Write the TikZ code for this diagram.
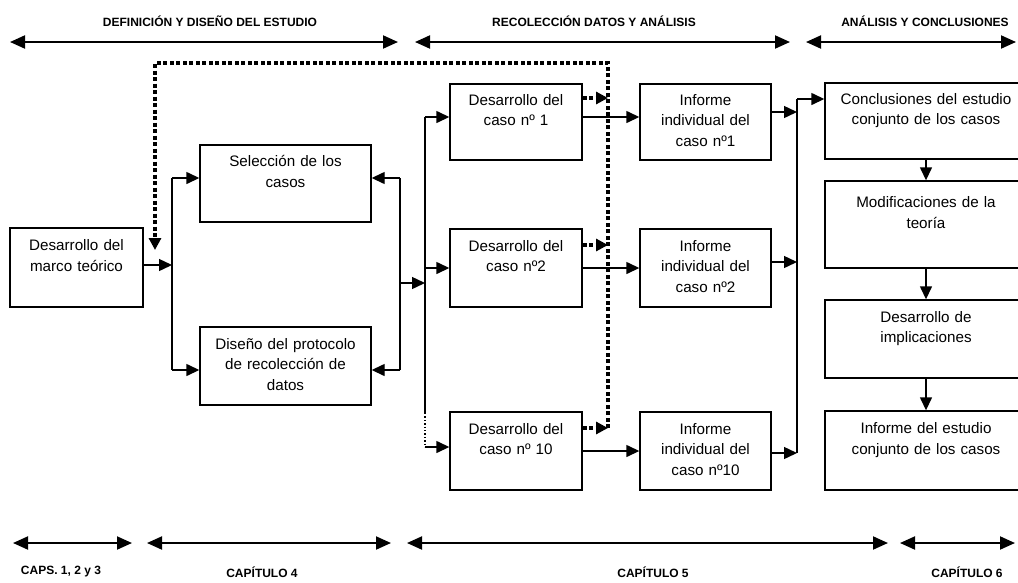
\documentclass[tikz,border=0pt]{standalone}
\usepackage{fontspec}
\setmainfont{Liberation Sans}
\usetikzlibrary{arrows.meta}
\newcommand{\cajatxt}[1]{\parbox[c][56pt][t]{\linewidth}{\centering #1}}
\tikzset{
  caja/.style={draw, line width=1.4pt, inner sep=0pt, minimum height=78pt,
    text width=#1, font=\fontsize{15.2}{20.5}\selectfont},
  linea/.style={line width=1.4pt},
  flecha/.style={line width=1.4pt, -{Triangle[length=13pt,width=12pt]}},
  punteada/.style={line width=3.5pt, dash pattern=on 4pt off 2.5pt},
  pflecha/.style={punteada, -{Triangle[length=12pt,width=12pt]}},
  doble/.style={line width=2pt,
    {Triangle[length=15pt,width=13pt]}-{Triangle[length=15pt,width=13pt]}},
  rotulo/.style={font=\fontsize{12}{14}\selectfont\bfseries, inner sep=0pt},
}

\begin{document}
\begin{tikzpicture}[x=1pt, y=-1pt]
  \useasboundingbox (0,0) rectangle (1018,582);
  \clip (0,0) rectangle (1018,582);

  \node[caja=133pt, minimum height=79pt] (marco) at (76.5,267.5) {\cajatxt{Desarrollo del\\marco teórico}};
  \node[caja=171pt, minimum height=77pt] (seleccion) at (285.5,183.5) {\cajatxt{Selección de los\\casos}};
  \node[caja=171pt] (diseno) at (285.5,366) {\cajatxt{Diseño del protocolo\\de recolección de\\datos}};
  \node[caja=132pt, minimum height=76pt] (caso1) at (516,122) {\cajatxt{Desarrollo del\\caso nº 1}};
  \node[caja=132pt] (caso2) at (516,268) {\cajatxt{Desarrollo del\\caso nº2}};
  \node[caja=132pt] (caso10) at (516,451) {\cajatxt{Desarrollo del\\caso nº 10}};
  \node[caja=131pt, minimum height=76pt] (inf1) at (705.5,122) {\cajatxt{Informe\\individual del\\caso nº1}};
  \node[caja=131pt] (inf2) at (705.5,268) {\cajatxt{Informe\\individual del\\caso nº2}};
  \node[caja=131pt] (inf10) at (705.5,451) {\cajatxt{Informe\\individual del\\caso nº10}};
  \node[caja=202pt, minimum height=76pt] (concl) at (926,121) {\cajatxt{Conclusiones del estudio\\conjunto de los casos}};
  \node[caja=202pt, minimum height=87pt] (modif) at (926,224.5) {\cajatxt{Modificaciones de la\\teoría}};
  \node[caja=202pt] (implic) at (926,339) {\cajatxt{Desarrollo de\\implicaciones}};
  \node[caja=202pt, minimum height=79pt] (infest) at (926,450.5) {\cajatxt{Informe del estudio\\conjunto de los casos}};

  \coordinate (a0) at (172,265);
  \coordinate (a1) at (172,178);
  \coordinate (a2) at (172,370);
  \draw[flecha] (marco.east |- a0) -- (a0);
  \draw[linea] (a1) -- (a2);
  \draw[flecha] (a1) -- (seleccion.west |- a1);
  \draw[flecha] (a2) -- (diseno.west |- a2);

  \coordinate (b0) at (400,283);
  \coordinate (b1) at (400,178);
  \coordinate (b2) at (400,370);
  \coordinate (c0) at (425,283);
  \draw[linea] (b1) -- (b2);
  \draw[flecha] (b1) -- (seleccion.east |- b1);
  \draw[flecha] (b2) -- (diseno.east |- b2);
  \draw[flecha] (b0) -- (c0);

  \coordinate (c1) at (425,117);
  \coordinate (c2) at (425,268);
  \coordinate (c4) at (425,413);
  \coordinate (c3) at (425,447);
  \draw[linea] (c1) -- (c4);
  \draw[line width=1.4pt, dotted] (c4) -- (c3);
  \draw[flecha] (c1) -- (caso1.west |- c1);
  \draw[flecha] (c2) -- (caso2.west |- c2);
  \draw[flecha] (c3) -- (caso10.west |- c3);

  \draw[flecha] (caso1.east |- c1) -- (inf1.west |- c1);
  \draw[flecha] (caso2) -- (inf2);
  \draw[flecha] (caso10) -- (inf10);

  \coordinate (e1) at (608,98);
  \coordinate (e2) at (608,245);
  \coordinate (e3) at (608,428);
  \coordinate (p1) at (608,63);
  \coordinate (p2) at (155,63);
  \coordinate (p3) at (155,250);
  \draw[pflecha] (caso1.east |- e1) -- (e1);
  \draw[pflecha] (caso2.east |- e2) -- (e2);
  \draw[pflecha] (caso10.east |- e3) -- (e3);
  \draw[pflecha] (e3) -- (p1) -- (p2) -- (p3);

  \coordinate (d0) at (797,99);
  \coordinate (d1) at (797,112);
  \coordinate (d2) at (797,262);
  \coordinate (d3) at (797,453);
  \draw[linea] (d0) -- (d3);
  \draw[flecha] (inf1.east |- d1) -- (d1);
  \draw[flecha] (inf2.east |- d2) -- (d2);
  \draw[flecha] (inf10.east |- d3) -- (d3);
  \draw[flecha] (d0) -- (concl.west |- d0);

  \draw[flecha] (concl) -- (modif);
  \draw[flecha] (modif) -- (implic);
  \draw[flecha] (implic) -- (infest);

  \coordinate (t1) at (10,42);
  \coordinate (t2) at (398,42);
  \coordinate (t3) at (415,42);
  \coordinate (t4) at (790,42);
  \coordinate (t5) at (806,42);
  \coordinate (t6) at (1016,42);
  \draw[doble] (t1) -- (t2);
  \draw[doble] (t3) -- (t4);
  \draw[doble] (t5) -- (t6);
  \node[rotulo] (tdef) at (210,21) {DEFINICIÓN Y DISEÑO DEL ESTUDIO};
  \node[rotulo] (trec) at (594,21) {RECOLECCIÓN DATOS Y ANÁLISIS};
  \node[rotulo] (tana) at (925,21) {ANÁLISIS Y CONCLUSIONES};

  \coordinate (u1) at (13,543);
  \coordinate (u2) at (132,543);
  \coordinate (u3) at (147,543);
  \coordinate (u4) at (391,543);
  \coordinate (u5) at (407,543);
  \coordinate (u6) at (888,543);
  \coordinate (u7) at (900,543);
  \coordinate (u8) at (1015,543);
  \draw[doble] (u1) -- (u2);
  \draw[doble] (u3) -- (u4);
  \draw[doble] (u5) -- (u6);
  \draw[doble] (u7) -- (u8);
  \node[rotulo] (cap13) at (61,572) {CAPS. 1, 2 y 3};
  \node[rotulo] (cap4) at (262,572) {CAPÍTULO 4};
  \node[rotulo] (cap5) at (653,572) {CAPÍTULO 5};
  \node[rotulo] (cap6) at (967,572) {CAPÍTULO 6};
\end{tikzpicture}
\end{document}
